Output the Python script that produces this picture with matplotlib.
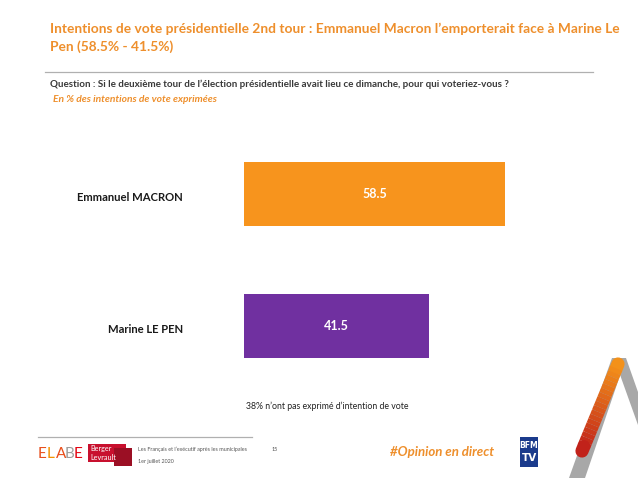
import matplotlib
matplotlib.use("Agg")
import matplotlib.pyplot as plt
from matplotlib.patches import Rectangle, Polygon
from matplotlib.lines import Line2D
import numpy as np

candidates = ["Emmanuel MACRON", "Marine LE PEN"]
values = [58.5, 41.5]
bar_colors = ["#F7941D", "#7030A0"]

title = "Intentions de vote présidentielle 2nd tour : Emmanuel Macron l’emporterait face à Marine Le\nPen (58.5% - 41.5%)"
question = "Question : Si le deuxième tour de l’élection présidentielle avait lieu ce dimanche, pour qui voteriez-vous ?"
subtitle = "En % des intentions de vote exprimées"
note = "38% n’ont pas exprimé d’intention de vote"

W, H = 638, 478
fig = plt.figure(figsize=(W / 100, H / 100), dpi=100)
fig.patch.set_facecolor("white")
FONT = "Lato"
ORANGE = "#EE8F2C"

def fx(x):
    return x / W

def fy(y):
    return 1 - y / H

# axes: x from 244 px, 4.46 px per unit; y: Macron center 194, Le Pen 326
ax_left = 244
ax_w = 60 * 4.46
ax_top = 194 - 0.4 * 132
ax_bot = 326 + 0.4 * 132
ax = fig.add_axes([fx(ax_left), fy(ax_bot), ax_w / W, (ax_bot - ax_top) / H])
ypos = [1, 0]
ax.barh(ypos, values, height=64 / 132, color=bar_colors, edgecolor="none")
for y, v in zip(ypos, values):
    ax.text(v / 2, y, f"{v}", ha="center", va="center", color="white",
            fontsize=9, fontweight="bold", family=FONT)
ax.set_xlim(0, 60)
ax.set_ylim(-0.4, 1.4)
ax.set_yticks([y - 0.02 for y in ypos])
ax.set_yticklabels(candidates, fontsize=8.1, fontweight="bold", family=FONT, color="#1a1a1a")
ax.tick_params(axis="y", length=0, pad=44)
ax.set_xticks([])
for s in ax.spines.values():
    s.set_visible(False)
ax.patch.set_alpha(0)

# header
fig.text(fx(50), fy(38), title, ha="left", va="center", color=ORANGE,
         fontsize=9.9, fontweight="bold", family=FONT, linespacing=1.5)
fig.add_artist(Line2D([fx(45), fx(593)], [fy(72), fy(72)], color="#b0b0b0", lw=0.9))
fig.text(fx(50), fy(84), question, ha="left", va="center", color="#3a3a3a",
         fontsize=7.15, fontweight="bold", family=FONT)
fig.text(fx(53), fy(100), subtitle, ha="left", va="center", color=ORANGE,
         fontsize=7.4, fontstyle="italic", fontweight="bold", family=FONT)
fig.text(fx(327), fy(406), note, ha="center", va="center", color="#222222",
         fontsize=6.3, family=FONT)

# footer
fig.add_artist(Line2D([fx(38), fx(252)], [fy(437), fy(437)], color="#b0b0b0", lw=0.9))
elabe_cols = ["#E8501E", "#F39200", "#E94E1B", "#9D9D9C", "#E30613"]
x0 = 38
for ch, c in zip("ELABE", elabe_cols):
    fig.text(fx(x0), fy(454), ch, ha="left", va="center", color=c,
             fontsize=11, family=FONT)
    x0 += 9
fig.add_artist(Rectangle((fx(88), fy(462)), (126 - 88) / W, (462 - 444) / H,
                         transform=fig.transFigure, facecolor="#C8102E", edgecolor="none"))
fig.add_artist(Rectangle((fx(114), fy(466)), (132 - 114) / W, (466 - 448) / H,
                         transform=fig.transFigure, facecolor="#9B0F24", edgecolor="none"))
fig.text(fx(90), fy(449), "Berger", ha="left", va="center", color="white", fontsize=5.2, family=FONT)
fig.text(fx(90), fy(457), "Levrault", ha="left", va="center", color="white", fontsize=5.2, family=FONT)
fig.text(fx(138), fy(449.5), "Les Français et l’exécutif après les municipales", ha="left",
         va="center", color="#555555", fontsize=3.9, family=FONT)
fig.text(fx(138), fy(461), "1er juillet 2020", ha="left", va="center", color="#555555",
         fontsize=3.9, family=FONT)
fig.text(fx(272), fy(449.5), "15", ha="left", va="center", color="#555555", fontsize=3.9, family=FONT)
fig.text(fx(390), fy(451.5), "#Opinion en direct", ha="left", va="center", color=ORANGE,
         fontsize=9.5, fontstyle="italic", fontweight="bold", family=FONT)
fig.add_artist(Rectangle((fx(520), fy(467)), 18 / W, 30 / H, transform=fig.transFigure,
                         facecolor="#1B3B8C", edgecolor="none"))
fig.text(fx(529), fy(445), "BFM", ha="center", va="center", color="white", fontsize=5.5,
         fontweight="bold", family="DejaVu Sans")
fig.text(fx(529), fy(458), "TV", ha="center", va="center", color="white", fontsize=7.5,
         fontweight="bold", family="DejaVu Sans")

# decorative "A" logo
fig.add_artist(Polygon([[fx(612), fy(358)], [fx(626), fy(358)], [fx(585), fy(478)], [fx(569), fy(478)]],
                       closed=True, transform=fig.transFigure, facecolor="#A8A8A8", edgecolor="none"))
fig.add_artist(Polygon([[fx(614), fy(358)], [fx(626), fy(358)], [fx(638), fy(392)], [fx(638), fy(425)]],
                       closed=True, transform=fig.transFigure, facecolor="#A8A8A8", edgecolor="none"))
p0 = np.array([618.0, 364.0])
p1 = np.array([582.0, 451.0])
c0 = np.array([0.96, 0.58, 0.10])
c1 = np.array([0.75, 0.12, 0.10])
n = 20
for i in range(n):
    a = p0 + (p1 - p0) * i / n
    b = p0 + (p1 - p0) * (i + 1) / n
    t = (i + 0.5) / n
    col = c0 + (c1 - c0) * t
    fig.add_artist(Line2D([fx(a[0]), fx(b[0])], [fy(a[1]), fy(b[1])], color=col,
                          lw=9.5, solid_capstyle="round" if i in (0, n - 1) else "butt"))

fig.savefig("out.png", dpi=100, facecolor="white")
